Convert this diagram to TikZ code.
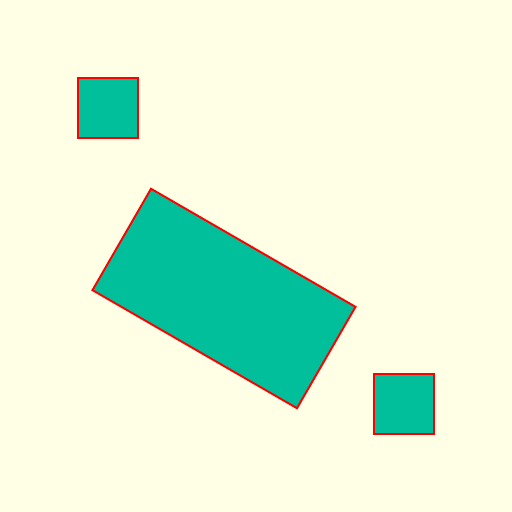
\documentclass[tikz,border=0pt]{standalone}
\usepackage{xcolor}
\usepackage{tikz}
\usetikzlibrary{positioning}

\definecolor{paper}{HTML}{FFFFE6}
\definecolor{tealfill}{HTML}{00BF9A}

\tikzset{
  block/.style={draw=red, fill=tealfill, line width=0.55pt, inner sep=0pt, outer sep=0pt},
  smallsq/.style={block, minimum width=0.595cm, minimum height=0.595cm}
}

\begin{document}
\begin{tikzpicture}[x=0.01cm,y=0.01cm]
  % Background
  \fill[paper] (0,0) rectangle (512,512);
  \useasboundingbox (0,0) rectangle (512,512);

  % Two squares
  \node[smallsq] (sqa) at (108,404) {};
  \node[smallsq] (sqb) at (404,108) {};

  % Tilted rectangle
  \node[block, minimum width=2.36cm, minimum height=1.17cm, rotate=-30] (slab) at (224,213.5) {};
\end{tikzpicture}
\end{document}
